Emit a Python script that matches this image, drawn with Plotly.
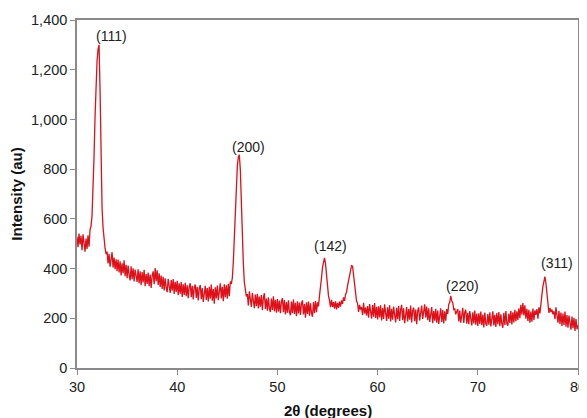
import plotly.graph_objects as go

# 2-theta sampling grid: 30.0 .. 80.0 in 0.1 degree steps
two_theta_start = 30.0
two_theta_step = 0.1

# Intensity (au), one row per degree
intensity = [
    528, 486, 541, 497, 532, 474, 538, 493, 468, 521,    # 30
    479, 534, 488, 556, 571, 612, 705, 850, 1010, 1150,  # 31
    1235, 1282, 1300, 1120, 870, 645, 565, 505, 482, 458,  # 32
    468, 421, 459, 408, 447, 466, 404, 444, 398, 437,    # 33
    389, 436, 384, 429, 372, 421, 381, 433, 369, 415,    # 34
    361, 412, 374, 352, 409, 357, 401, 348, 396, 359,    # 35
    346, 397, 341, 389, 333, 386, 344, 395, 329, 378,    # 36
    338, 384, 329, 376, 322, 371, 389, 337, 402, 349,    # 37
    393, 334, 381, 326, 372, 318, 367, 312, 361, 324,    # 38
    305, 359, 316, 302, 354, 311, 358, 298, 347, 306,    # 39
    351, 293, 341, 299, 346, 286, 337, 294, 343, 289,    # 40
    333, 281, 327, 341, 285, 331, 276, 324, 336, 282,    # 41
    327, 272, 319, 334, 277, 322, 266, 316, 331, 274,    # 42
    322, 268, 327, 279, 336, 271, 318, 259, 325, 280,    # 43
    332, 273, 323, 341, 280, 327, 269, 337, 285, 333,    # 44
    279, 339, 289, 348, 338, 362, 425, 520, 640, 745,    # 45
    812, 848, 858, 798, 655, 518, 421, 346, 318, 288,    # 46
    297, 252, 308, 259, 246, 302, 255, 241, 295, 249,    # 47
    299, 240, 287, 247, 294, 233, 282, 301, 238, 279,    # 48
    231, 284, 239, 225, 279, 234, 288, 228, 274, 222,    # 49
    277, 227, 271, 220, 268, 281, 224, 273, 215, 265,    # 50
    222, 272, 226, 212, 267, 221, 275, 217, 262, 208,    # 51
    268, 219, 263, 213, 260, 272, 215, 257, 202, 264,    # 52
    217, 267, 210, 260, 221, 206, 265, 220, 269, 225,    # 53
    264, 248, 290, 318, 362, 405, 432, 443, 420, 372,    # 54
    322, 290, 272, 245, 274, 246, 265, 239, 268, 236,    # 55
    262, 242, 267, 247, 272, 258, 284, 270, 296, 305,    # 56
    330, 355, 380, 400, 412, 410, 372, 330, 295, 268,    # 57
    261, 226, 254, 235, 245, 213, 262, 219, 243, 211,    # 58
    249, 202, 257, 210, 198, 253, 206, 261, 201, 246,    # 59
    195, 248, 203, 252, 191, 241, 197, 256, 203, 189,    # 60
    244, 198, 252, 187, 238, 194, 247, 201, 183, 242,    # 61
    196, 249, 189, 235, 254, 192, 240, 180, 231, 245,    # 62
    187, 237, 194, 251, 183, 232, 243, 188, 235, 176,    # 63
    230, 244, 191, 238, 251, 197, 242, 256, 203, 247,    # 64
    192, 240, 185, 233, 245, 180, 229, 190, 238, 182,    # 65
    231, 177, 226, 240, 185, 233, 179, 228, 190, 237,    # 66
    218, 256, 264, 290, 270, 262, 235, 238, 216, 230,    # 67
    237, 187, 231, 182, 228, 242, 181, 225, 234, 178,    # 68
    222, 176, 229, 183, 171, 224, 179, 231, 174, 219,    # 69
    169, 220, 177, 227, 172, 215, 163, 223, 178, 170,    # 70
    217, 174, 224, 167, 212, 228, 171, 214, 165, 221,    # 71
    176, 225, 168, 216, 177, 162, 222, 173, 229, 179,    # 72
    170, 219, 181, 230, 175, 224, 183, 234, 188, 228,    # 73
    193, 240, 200, 254, 215, 261, 211, 252, 198, 238,    # 74
    189, 234, 182, 227, 186, 239, 193, 232, 214, 237,    # 75
    198, 244, 220, 270, 295, 328, 355, 368, 340, 298,    # 76
    270, 222, 242, 225, 235, 216, 228, 196, 244, 205,    # 77
    182, 230, 177, 223, 169, 219, 173, 227, 166, 213,    # 78
    162, 211, 167, 154, 207, 160, 202, 149, 197, 156,    # 79
    172,                                                 # 80
]
two_theta = [round(two_theta_start + two_theta_step * i, 1) for i in range(len(intensity))]

# Peak labels
peak_labels = ["(111)", "(200)", "(142)", "(220)", "(311)"]
peak_label_x = [33.4, 47.1, 55.3, 68.5, 77.9]
peak_label_y = [1335, 890, 490, 328, 424]

x_ticks = [30, 40, 50, 60, 70, 80]
y_ticks = [0, 200, 400, 600, 800, 1000, 1200, 1400]

FONT = "Arial, Liberation Sans, sans-serif"

fig = go.Figure()
fig.add_trace(go.Scatter(
    x=two_theta, y=intensity, mode="lines",
    line=dict(color="#dc111a", width=1.3),
    showlegend=False, hoverinfo="skip",
))

for txt, xx, yy in zip(peak_labels, peak_label_x, peak_label_y):
    fig.add_annotation(x=xx, y=yy, text=txt, showarrow=False,
                       font=dict(family=FONT, size=14, color="#222"),
                       xanchor="center", yanchor="middle")

# x-axis title placed as a paper annotation just below the tick labels
fig.add_annotation(x=0.5, y=0, xref="paper", yref="paper",
                   text="<b>2θ (degrees)</b>", showarrow=False,
                   xanchor="center", yanchor="middle", yshift=-42,
                   font=dict(family=FONT, size=15, color="#111"))

axis_common = dict(
    showline=True, linecolor="#8a8a8a", linewidth=1.5, mirror=True,
    ticks="outside", ticklen=5, tickcolor="#8a8a8a", tickwidth=1.2,
    showgrid=False, zeroline=False, automargin=False,
    tickfont=dict(family=FONT, size=14.5, color="#222"),
)

# The page body adds an 8px offset, so the figure is sized to fill the
# remaining 579x410 area of the 587x418 window.
fig.update_layout(
    width=579, height=410,
    margin=dict(l=69, r=9, t=12, b=50),
    paper_bgcolor="white", plot_bgcolor="white",
    xaxis=dict(range=[30, 80], tickvals=x_ticks, **axis_common),
    yaxis=dict(range=[0, 1400], tickvals=y_ticks, tickformat=",d",
               title=dict(text="<b>Intensity (au)</b>", standoff=6,
                          font=dict(family=FONT, size=15, color="#111")),
               **axis_common),
)

fig.write_html("out.html")
